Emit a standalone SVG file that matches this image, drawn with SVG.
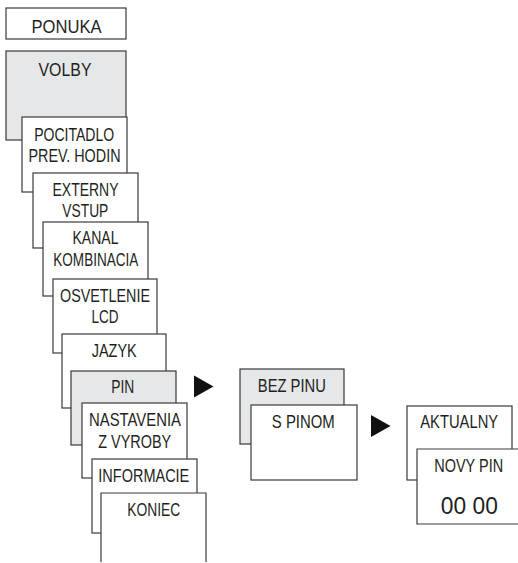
<svg xmlns="http://www.w3.org/2000/svg" width="518" height="563" viewBox="0 0 518 563">
<style>
.b{fill:#ffffff;stroke:#3a3a3a;stroke-width:1.2}
.g{fill:#e6e7e8;stroke:#3a3a3a;stroke-width:1.2}
.o{fill:none;stroke:#3a3a3a;stroke-width:1.2}
text{font-family:"Liberation Sans",Arial,sans-serif;font-size:18px;fill:#231f20;text-anchor:middle}
.big{font-size:24px}
.arr{fill:#111111}
</style>
<rect width="518" height="563" fill="#ffffff"/>
<g id="ponuka"><rect class="b" x="6" y="8" width="120" height="31"/><text x="66.5" y="32.7" textLength="70" lengthAdjust="spacingAndGlyphs">PONUKA</text></g>
<g id="volby"><rect class="g" x="6" y="51" width="120" height="89"/><text x="65" y="76" textLength="53" lengthAdjust="spacingAndGlyphs">VOLBY</text></g>
<g id="pocitadlo"><rect class="b" x="22" y="117" width="105" height="75"/><text x="74.2" y="140.7" textLength="80" lengthAdjust="spacingAndGlyphs">POCITADLO</text><text x="74.5" y="161.7" textLength="92" lengthAdjust="spacingAndGlyphs">PREV. HODIN</text></g>
<g id="externy"><rect class="b" x="33" y="173" width="105" height="75"/><text x="85.5" y="196" textLength="66" lengthAdjust="spacingAndGlyphs">EXTERNY</text><text x="85.3" y="217.3" textLength="46" lengthAdjust="spacingAndGlyphs">VSTUP</text></g>
<g id="kanal"><rect class="b" x="43" y="222" width="105" height="74"/><text x="95.5" y="244" textLength="46" lengthAdjust="spacingAndGlyphs">KANAL</text><text x="95.8" y="265.7" textLength="85" lengthAdjust="spacingAndGlyphs">KOMBINACIA</text></g>
<g id="osvetlenie"><rect class="b" x="53" y="279" width="104" height="74"/><text x="105" y="301.7" textLength="90" lengthAdjust="spacingAndGlyphs">OSVETLENIE</text><text x="105" y="323.3" textLength="27" lengthAdjust="spacingAndGlyphs">LCD</text></g>
<g id="jazyk"><rect class="b" x="62" y="334" width="104" height="74"/><text x="114.2" y="356.7" textLength="45" lengthAdjust="spacingAndGlyphs">JAZYK</text></g>
<g id="pin"><rect class="g" x="71" y="371" width="105" height="74"/><text x="122.7" y="392.7" textLength="23" lengthAdjust="spacingAndGlyphs">PIN</text></g>
<g id="nastavenia"><rect class="b" x="82" y="403" width="105" height="75"/><text x="135" y="425.7" textLength="92" lengthAdjust="spacingAndGlyphs">NASTAVENIA</text><text x="134.7" y="447.7" textLength="73" lengthAdjust="spacingAndGlyphs">Z VYROBY</text></g>
<g id="informacie"><rect class="b" x="92" y="459" width="105" height="74"/><text x="143.8" y="481.7" textLength="91" lengthAdjust="spacingAndGlyphs">INFORMACIE</text></g>
<g id="koniec"><rect x="101" y="493" width="105" height="70" fill="#ffffff"/><path class="o" d="M101,562 V493 H206 V562"/><text x="153.7" y="515.7" textLength="53" lengthAdjust="spacingAndGlyphs">KONIEC</text></g>
<g id="bezpinu"><rect class="g" x="240" y="369" width="104" height="75"/><text x="291.8" y="392.3" textLength="68" lengthAdjust="spacingAndGlyphs">BEZ PINU</text></g>
<g id="spinom"><rect class="b" x="251" y="405" width="106" height="75"/><text x="303.3" y="428.3" textLength="63" lengthAdjust="spacingAndGlyphs">S PINOM</text></g>
<g id="aktualny"><rect class="b" x="407" y="406" width="105" height="74"/><text x="459.2" y="428.3" textLength="78" lengthAdjust="spacingAndGlyphs">AKTUALNY</text></g>
<g id="novypin"><rect x="417" y="449" width="101" height="75" fill="#ffffff"/><path class="o" d="M518,449 H417 V524 H518"/><text x="468.7" y="472.3" textLength="69" lengthAdjust="spacingAndGlyphs">NOVY PIN</text><text class="big" x="469.3" y="514" textLength="57" lengthAdjust="spacingAndGlyphs">00 00</text></g>
<g id="connectors">
<polygon class="arr" points="194,375.5 213.5,386.5 194,397.5"/>
<polygon class="arr" points="371,415 390.5,426 371,437"/>
</g>
</svg>
